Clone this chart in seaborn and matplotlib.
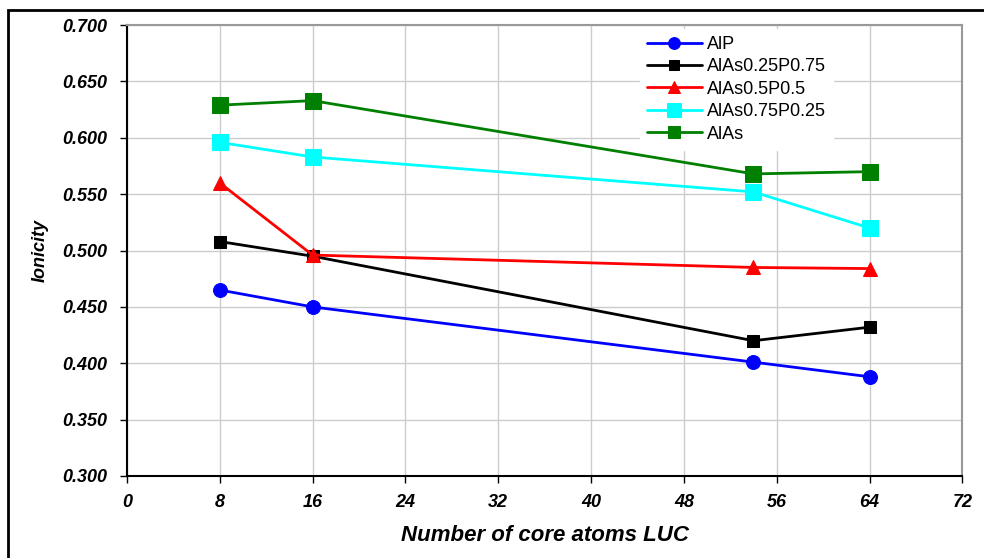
import matplotlib
matplotlib.use("Agg")
import matplotlib.pyplot as plt
import seaborn as sns
import pandas as pd
from matplotlib.patches import Rectangle
from matplotlib.ticker import FormatStrFormatter, MultipleLocator

atoms = [8, 16, 54, 64]
alp = [0.465, 0.450, 0.401, 0.388]
alas025 = [0.508, 0.495, 0.420, 0.432]
alas05 = [0.560, 0.496, 0.485, 0.484]
alas075 = [0.596, 0.583, 0.552, 0.520]
alas = [0.629, 0.633, 0.568, 0.570]

series_names = ["AlP", "AlAs0.25P0.75", "AlAs0.5P0.5", "AlAs0.75P0.25", "AlAs"]
series_values = [alp, alas025, alas05, alas075, alas]
colors = ["#0000ff", "#000000", "#ff0000", "#00ffff", "#008000"]
markers = ["o", "s", "^", "s", "s"]
msizes = [10, 9, 10, 12, 11]

sns.set_style("white")
plt.rcParams["font.family"] = ["Liberation Sans", "DejaVu Sans"]
plt.rcParams["text.color"] = "black"
plt.rcParams["axes.labelcolor"] = "black"
plt.rcParams["xtick.color"] = "black"
plt.rcParams["ytick.color"] = "black"

fig = plt.figure(figsize=(9.84, 5.58), dpi=100)
ax = fig.add_axes([0.129, 0.147, 0.849, 0.808])

for name, vals, c, m, ms in zip(series_names, series_values, colors, markers, msizes):
    df = pd.DataFrame({"x": atoms, "y": vals})
    sns.lineplot(data=df, x="x", y="y", ax=ax, color=c, marker=m, markersize=ms,
                 markeredgecolor=c, linewidth=2, label=name)

ax.set_xlim(0, 72)
ax.set_ylim(0.300, 0.700)
ax.xaxis.set_major_locator(MultipleLocator(8))
ax.yaxis.set_major_locator(MultipleLocator(0.05))
ax.yaxis.set_major_formatter(FormatStrFormatter("%.3f"))
ax.grid(True, color="#cccccc", linewidth=1)
ax.set_axisbelow(True)

for side in ["top", "right"]:
    ax.spines[side].set_color("#999999")
    ax.spines[side].set_linewidth(1.5)
for side in ["left", "bottom"]:
    ax.spines[side].set_color("black")
    ax.spines[side].set_linewidth(1.5)

ax.tick_params(axis="both", direction="out", length=5, width=1, color="black",
               labelsize=13, bottom=True, left=True)
ax.tick_params(axis="y", pad=9)
ax.tick_params(axis="x", pad=8)
for lab in ax.get_xticklabels() + ax.get_yticklabels():
    lab.set_fontweight("bold")
    lab.set_fontstyle("italic")

ax.set_xlabel("Number of core atoms LUC", fontsize=16, fontweight="bold",
              fontstyle="italic", labelpad=10)
ax.set_ylabel("Ionicity", fontsize=13, fontweight="bold", fontstyle="italic",
              labelpad=10)

leg = ax.legend(loc="upper left", bbox_to_anchor=(0.61, 1.0), frameon=True,
                fontsize=13, handlelength=3, borderaxespad=0.2,
                labelspacing=0.3, handletextpad=0.3, markerscale=0.85)
leg.get_frame().set_edgecolor("white")
leg.get_frame().set_facecolor("white")
leg.get_frame().set_alpha(1)

fig.patches.append(Rectangle((0.008, -0.1), 1.2, 1.082, transform=fig.transFigure,
                             fill=False, edgecolor="black", linewidth=2))

fig.savefig("out.png", dpi=100)
